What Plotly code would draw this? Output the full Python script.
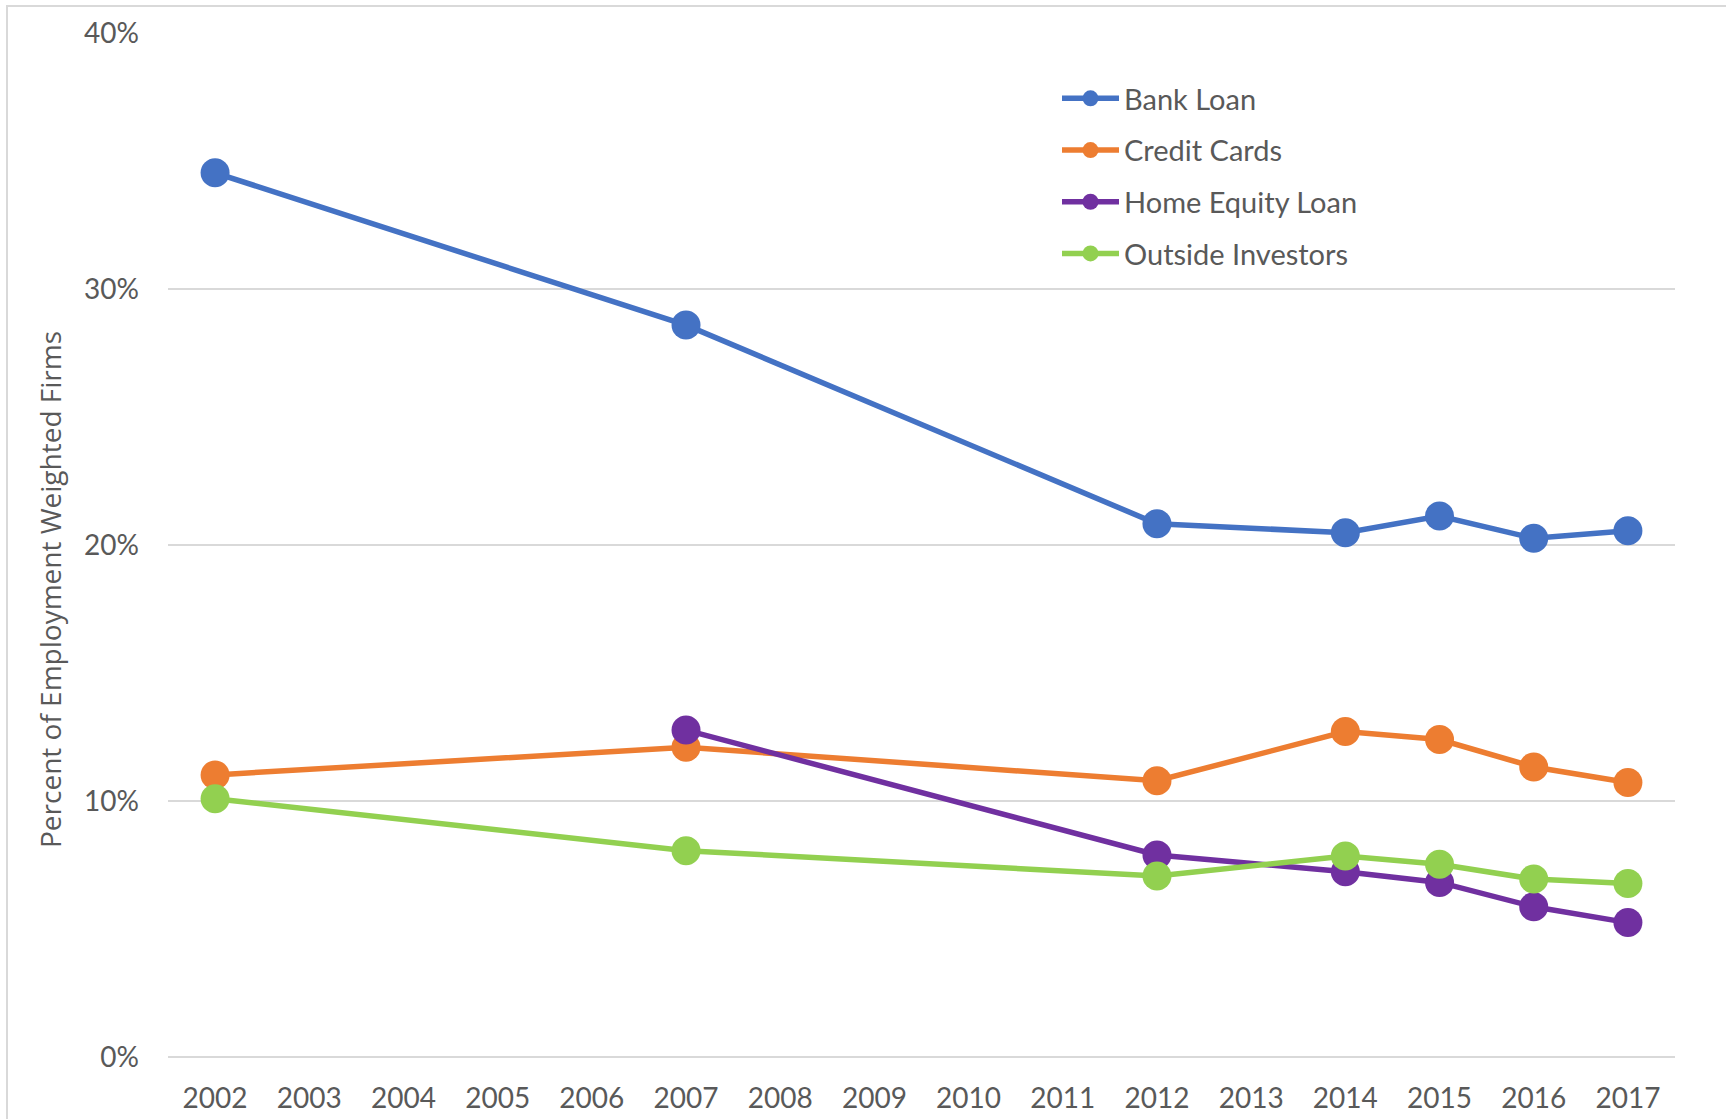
import plotly.graph_objects as go

# Survey years on the horizontal axis
years = [2002, 2007, 2012, 2014, 2015, 2016, 2017]
home_equity_years = [2007, 2012, 2014, 2015, 2016, 2017]

# Share of employment-weighted firms using each financing source
bank_loan = [0.3454, 0.2859, 0.2083, 0.2048, 0.2113, 0.2026, 0.2056]
credit_cards = [0.1102, 0.1210, 0.1079, 0.1271, 0.1240, 0.1133, 0.1072]
home_equity_loan = [0.1277, 0.0789, 0.0724, 0.0682, 0.0587, 0.0525]
outside_investors = [0.1009, 0.0806, 0.0707, 0.0785, 0.0753, 0.0695, 0.0678]

series = [
    ("Bank Loan", years, bank_loan, "#4472C4"),
    ("Credit Cards", years, credit_cards, "#ED7D31"),
    ("Home Equity Loan", home_equity_years, home_equity_loan, "#7030A0"),
    ("Outside Investors", years, outside_investors, "#92D050"),
]

W, H = 1726, 1119
L, R, T, B = 168, 51, 33, 62
plot_w = W - L - R
plot_h = H - T - B

TEXT = "#595959"
GRID = "#D9D9D9"

fig = go.Figure()
for name, xs, ys, color in series:
    fig.add_trace(go.Scatter(
        x=xs, y=ys, name=name, legendgroup=name,
        mode="lines+markers",
        line=dict(color=color, width=5.5),
        marker=dict(color=color, size=29),
    ))

fig.update_layout(
    width=W, height=H,
    margin=dict(l=L, r=R, t=T, b=B, pad=0, autoexpand=False),
    paper_bgcolor="white", plot_bgcolor="white",
    font=dict(family="Lato", size=28, color=TEXT),
    showlegend=True,
    legend=dict(
        x=(1057 - L) / plot_w, y=(H - B - 73) / plot_h,
        xanchor="left", yanchor="top",
        bgcolor="rgba(0,0,0,0)",
        font=dict(family="Lato", size=29, color=TEXT),
        itemwidth=57, tracegroupgap=11,
    ),
    xaxis=dict(
        range=[2001.5, 2017.5], tickmode="linear", tick0=2002, dtick=1,
        showgrid=False, zeroline=False, showline=False, ticks="",
        ticklabelstandoff=22, automargin=False,
        tickfont=dict(family="Lato", size=28, color=TEXT),
    ),
    yaxis=dict(
        range=[0, 0.4], tickmode="linear", tick0=0, dtick=0.1,
        tickformat=".0%", automargin=False,
        showgrid=True, gridcolor=GRID, gridwidth=2,
        zeroline=True, zerolinecolor=GRID, zerolinewidth=2,
        showline=False, ticks="", ticklabelstandoff=28,
        tickfont=dict(family="Lato", size=28, color=TEXT),
    ),
    annotations=[dict(
        text="Percent of Employment Weighted Firms",
        xref="paper", yref="paper",
        x=(50 - L) / plot_w, y=(H - B - 590) / plot_h,
        xanchor="center", yanchor="middle", textangle=-90,
        showarrow=False,
        font=dict(family="Open Sans", size=28, color=TEXT),
    )],
    shapes=[dict(
        type="rect", xref="paper", yref="paper",
        x0=(7 - L) / plot_w, x1=(W + 20 - L) / plot_w,
        y0=(H - B - (H + 20)) / plot_h, y1=(H - B - 6) / plot_h,
        line=dict(color=GRID, width=2), fillcolor="rgba(0,0,0,0)",
        layer="below",
    )],
)

fig.write_html("out.html")
